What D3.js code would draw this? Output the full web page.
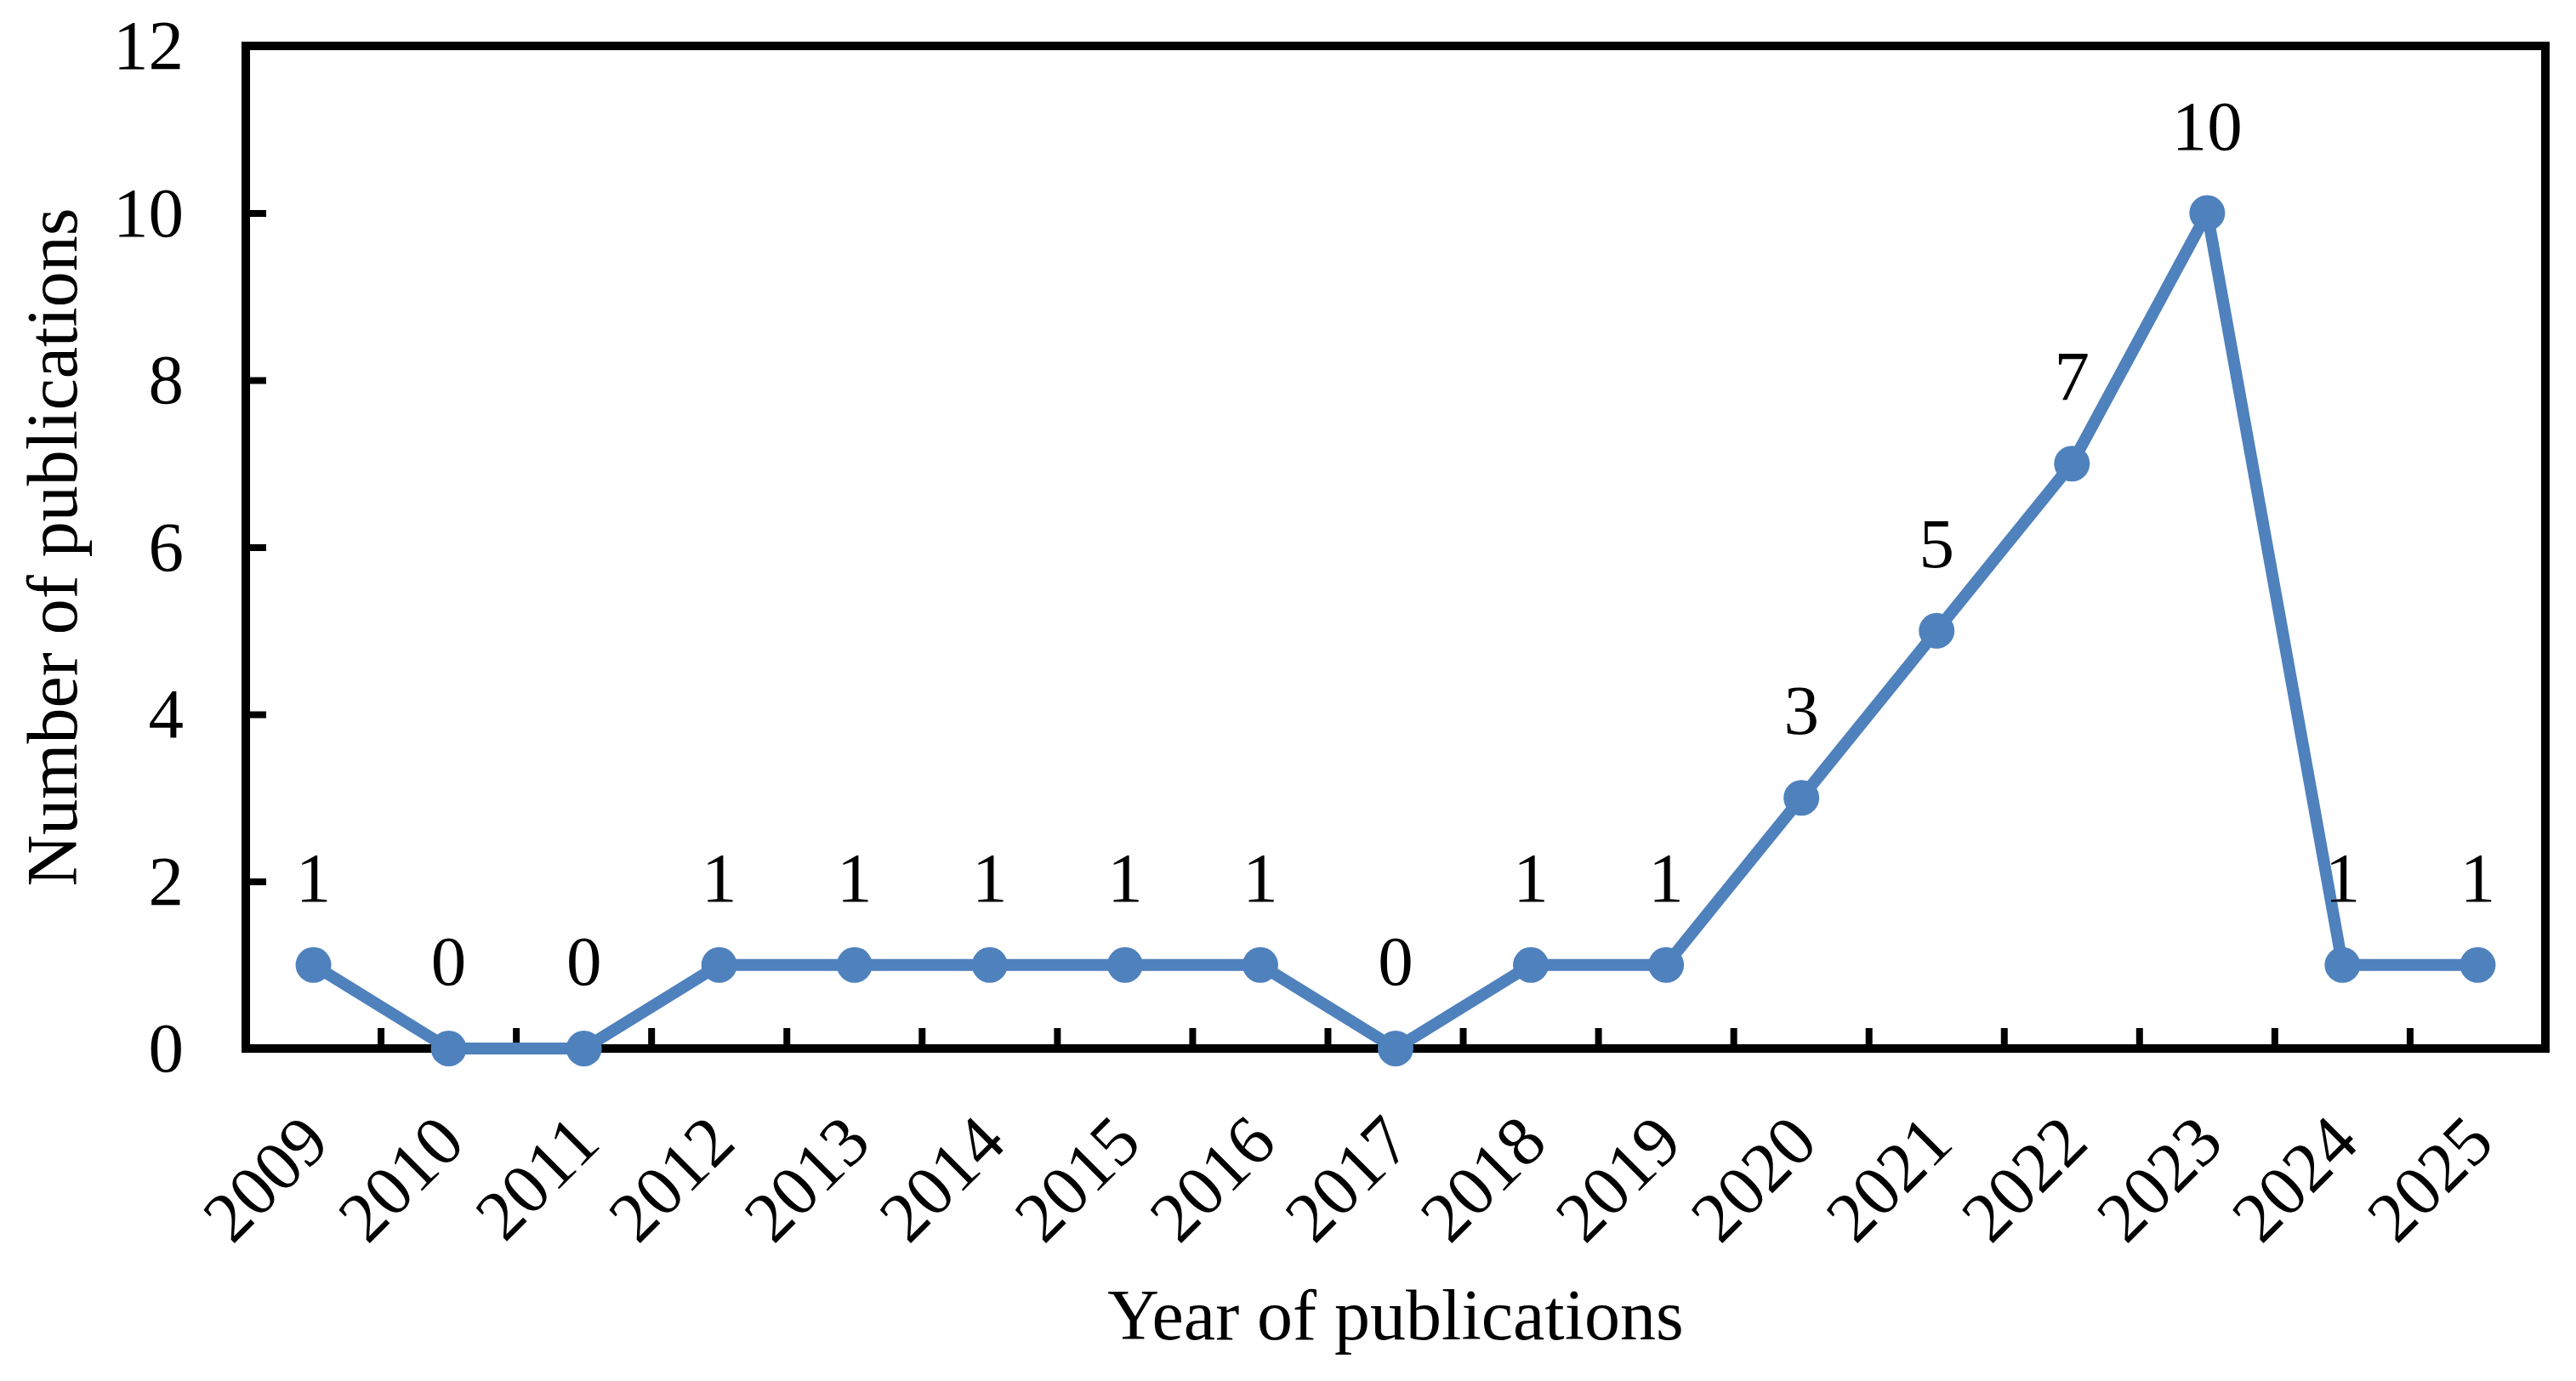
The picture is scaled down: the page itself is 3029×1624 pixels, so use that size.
<!DOCTYPE html>
<html>
<head>
<meta charset="utf-8">
<script src="https://cdn.jsdelivr.net/npm/d3@7"></script>
<style>
  html, body { margin: 0; padding: 0; background: #fff; }
  svg { display: block; }
  text { font-family: "Liberation Serif", "Times New Roman", serif; fill: #000; }
</style>
</head>
<body>
<script>
const years = ["2009","2010","2011","2012","2013","2014","2015","2016","2017","2018","2019","2020","2021","2022","2023","2024","2025"];
const counts = [1,0,0,1,1,1,1,1,0,1,1,3,5,7,10,1,1];
const yTicks = [0,2,4,6,8,10,12];
const xTitle = "Year of publications";
const yTitle = "Number of publications";

const W = 3029, H = 1624;
const mLeft = 289, mRight = 2993, mTop = 54, mBottom = 1233;
const blue = "#4f81bd";

const svg = d3.select("body").append("svg").attr("width", W).attr("height", H);

const x = d3.scaleBand().domain(years).range([mLeft, mRight]).padding(0);
const y = d3.scaleLinear().domain([0, 12]).range([mBottom, mTop]);

// frame
svg.append("rect")
  .attr("x", mLeft).attr("y", mTop)
  .attr("width", mRight - mLeft).attr("height", mBottom - mTop)
  .attr("fill", "none").attr("stroke", "#000").attr("stroke-width", 10);

// y ticks (inward)
const yAxis = d3.axisLeft(y).tickValues(yTicks).tickSize(-24).tickPadding(73);
const gy = svg.append("g").attr("transform", `translate(${mLeft},0)`).call(yAxis);
gy.select(".domain").remove();
gy.selectAll(".tick line").attr("stroke", "#000").attr("stroke-width", 8);
gy.selectAll(".tick text")
  .style("font-family", "'Liberation Serif', serif")
  .style("font-size", "83px").attr("fill", "#000");

// x ticks at band boundaries (inward)
svg.append("g").selectAll("line")
  .data(years.slice(1))
  .join("line")
  .attr("x1", d => x(d)).attr("x2", d => x(d))
  .attr("y1", mBottom).attr("y2", mBottom - 24)
  .attr("stroke", "#000").attr("stroke-width", 8);

// x tick labels rotated
svg.append("g").selectAll("text")
  .data(years)
  .join("text")
  .attr("transform", d => `translate(${x(d) + x.bandwidth() / 2 + 22},${mBottom + 114}) rotate(-45)`)
  .attr("text-anchor", "end")
  .style("font-size", "83px")
  .text(d => d);

// line
const pts = years.map((d, i) => ({ year: d, v: counts[i] }));
const line = d3.line().x(d => x(d.year) + x.bandwidth() / 2).y(d => y(d.v));
svg.append("path")
  .datum(pts)
  .attr("d", line)
  .attr("fill", "none")
  .attr("stroke", blue)
  .attr("stroke-width", 14)
  .attr("stroke-linejoin", "round");

svg.append("g").selectAll("circle")
  .data(pts)
  .join("circle")
  .attr("cx", d => x(d.year) + x.bandwidth() / 2)
  .attr("cy", d => y(d.v))
  .attr("r", 21)
  .attr("fill", blue);

// data labels
svg.append("g").selectAll("text")
  .data(pts)
  .join("text")
  .attr("x", d => x(d.year) + x.bandwidth() / 2)
  .attr("y", d => y(d.v) - 75)
  .attr("text-anchor", "middle")
  .style("font-size", "83px")
  .text(d => d.v);

// axis titles
svg.append("text")
  .attr("x", (mLeft + mRight) / 2).attr("y", 1575)
  .attr("text-anchor", "middle")
  .style("font-size", "84px")
  .text(xTitle);

svg.append("text")
  .attr("transform", `translate(90,${(mTop + mBottom) / 2}) rotate(-90)`)
  .attr("text-anchor", "middle")
  .style("font-size", "84px")
  .text(yTitle);
</script>
</body>
</html>
